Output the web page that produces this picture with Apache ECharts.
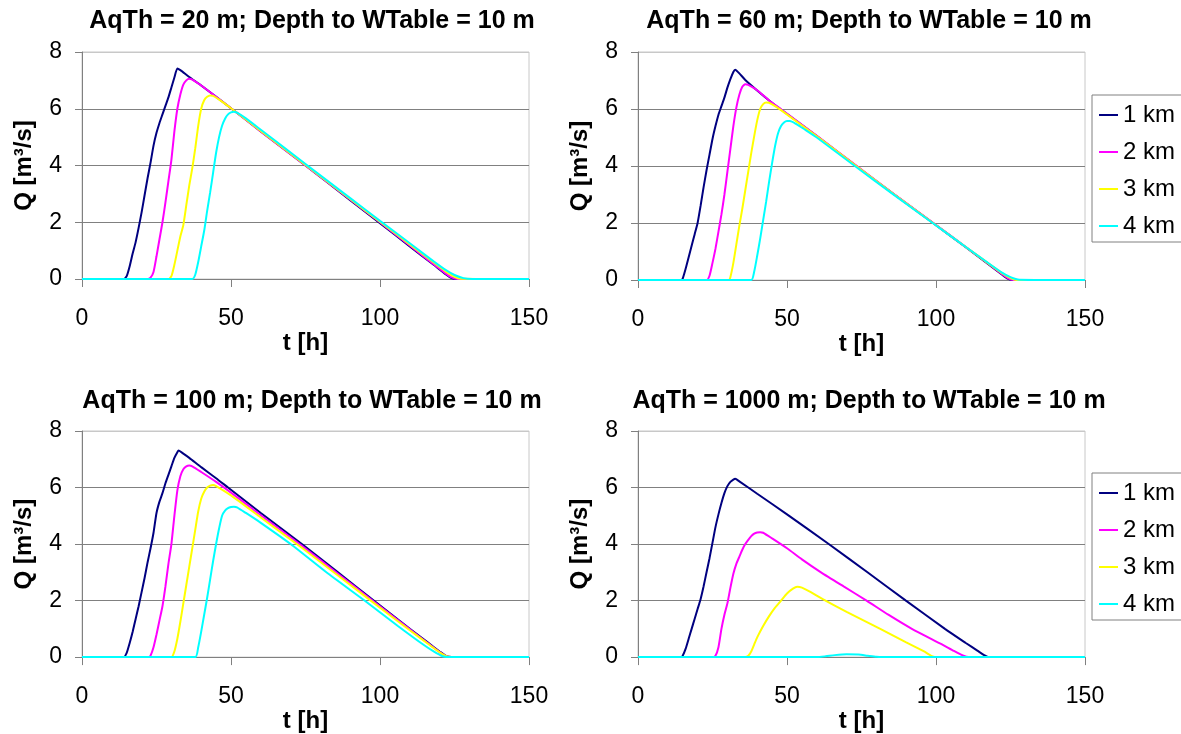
<!DOCTYPE html>
<html>
<head>
<meta charset="utf-8">
<script src="https://cdn.jsdelivr.net/npm/echarts@6/dist/echarts.min.js"></script>
<style>
html,body{margin:0;padding:0;background:#fff;}
#chart{width:1181px;height:734px;}
</style>
</head>
<body>
<div id="chart"></div>
<script>
// ---- Data (t [h], Q [m3/s]) ----
const seriesNames = ['1 km', '2 km', '3 km', '4 km'];
const panelTitles = [
  'AqTh = 20 m; Depth to WTable = 10 m',
  'AqTh = 60 m; Depth to WTable = 10 m',
  'AqTh = 100 m; Depth to WTable = 10 m',
  'AqTh = 1000 m; Depth to WTable = 10 m'
];
const xTicks = [0, 50, 100, 150];
const yTicks = [0, 2, 4, 6, 8];

// Panel 1: AqTh = 20 m
const p1_1km = [[0,0],[14,0],[15,0.1],[16,0.45],[17,0.9],[18,1.3],[19,1.8],[20,2.35],[21,2.95],[22,3.55],[23,4.1],[24,4.7],[25,5.15],[26,5.5],[27,5.8],[28,6.1],[29,6.4],[30,6.75],[31,7.1],[32,7.42],[33,7.36],[36,7.12],[40,6.82],[50,6.02],[60,5.2],[75,4.0],[90,2.78],[100,1.97],[110,1.15],[118,0.5],[122,0.17],[124,0.03],[126,0],[150,0]];
const p1_2km = [[0,0],[22,0],[23,0.05],[24,0.25],[25,0.8],[26,1.4],[27,2.0],[28,2.7],[29,3.45],[30,4.2],[31,5.2],[32,6.0],[33,6.5],[34,6.85],[35,7.0],[36,7.06],[37,7.03],[40,6.82],[50,6.02],[60,5.2],[75,4.0],[90,2.8],[100,2.0],[110,1.18],[118,0.52],[122,0.2],[124,0.06],[126,0],[150,0]];
const p1_3km = [[0,0],[29,0],[30,0.1],[31,0.5],[32,1.0],[33,1.5],[34,1.9],[35,2.6],[36,3.3],[37,3.9],[38,4.6],[39,5.4],[40,6.0],[41,6.3],[42,6.42],[43,6.47],[44,6.45],[47,6.25],[50,6.02],[60,5.22],[75,4.02],[90,2.82],[100,2.02],[110,1.22],[118,0.58],[122,0.27],[125,0.08],[127,0.01],[150,0]];
const p1_4km = [[0,0],[37,0],[38,0.15],[39,0.6],[40,1.15],[41,1.7],[42,2.4],[43,3.05],[44,3.75],[45,4.45],[46,5.0],[47,5.4],[48,5.65],[49,5.8],[50,5.87],[51,5.89],[52,5.86],[55,5.66],[60,5.26],[75,4.05],[90,2.85],[100,2.05],[110,1.26],[118,0.62],[122,0.32],[125,0.14],[128,0.03],[131,0],[150,0]];

// Panel 2: AqTh = 60 m
const p2_1km = [[0,0],[14.5,0],[15,0.05],[16,0.4],[17,0.8],[18,1.2],[19,1.6],[20,2.0],[21,2.6],[22,3.25],[23,3.85],[24,4.4],[25,4.95],[26,5.4],[27,5.8],[28,6.1],[29,6.4],[30,6.75],[31,7.05],[32,7.3],[32.6,7.38],[34,7.25],[36,7.02],[40,6.65],[44,6.3],[48,5.98],[60,5.05],[73,4.02],[86,3.0],[99,2.0],[110,1.15],[118,0.52],[122,0.2],[124,0.05],[126,0],[150,0]];
const p2_2km = [[0,0],[23,0],[24,0.15],[25,0.6],[26,1.1],[27,1.7],[28,2.3],[29,3.0],[30,3.8],[31,4.6],[32,5.4],[33,6.05],[34,6.5],[35,6.78],[36,6.87],[37,6.85],[40,6.66],[44,6.3],[48,5.99],[60,5.06],[73,4.03],[86,3.01],[99,2.01],[110,1.16],[118,0.54],[122,0.22],[124,0.07],[126,0],[150,0]];
const p2_3km = [[0,0],[30.5,0],[31,0.1],[32,0.6],[33,1.25],[34,1.9],[35,2.5],[36,3.15],[37,3.8],[38,4.45],[39,5.05],[40,5.6],[41,6.0],[42,6.17],[43,6.23],[44,6.22],[46,6.1],[48,5.96],[60,5.04],[73,4.02],[86,3.0],[99,2.0],[110,1.16],[118,0.55],[122,0.25],[125,0.07],[127,0],[150,0]];
const p2_4km = [[0,0],[38,0],[39,0.3],[40,0.85],[41,1.45],[42,2.1],[43,2.75],[44,3.45],[45,4.1],[46,4.7],[47,5.15],[48,5.4],[49,5.53],[50,5.58],[51,5.58],[53,5.48],[56,5.28],[60,5.0],[73,3.98],[86,2.98],[99,1.99],[110,1.16],[118,0.56],[122,0.27],[125,0.1],[128,0.01],[150,0]];

// Panel 3: AqTh = 100 m
const p3_1km = [[0,0],[14,0],[15,0.15],[16,0.5],[17,0.9],[18,1.35],[19,1.8],[20,2.3],[21,2.8],[22,3.35],[23,3.85],[24,4.4],[25,5.1],[26,5.5],[27,5.8],[28,6.15],[29,6.45],[30,6.75],[31,7.05],[32,7.25],[32.4,7.31],[34,7.2],[36,7.05],[40,6.72],[45,6.33],[49,6.0],[60,5.1],[74,3.98],[86,2.99],[98,1.99],[110,1.0],[116,0.52],[120,0.2],[122,0.05],[124,0],[150,0]];
const p3_2km = [[0,0],[22.5,0],[23,0.05],[24,0.35],[25,0.8],[26,1.3],[27,1.8],[28,2.5],[29,3.3],[30,4.0],[31,5.0],[32,5.9],[33,6.4],[34,6.65],[35,6.75],[36,6.78],[37,6.75],[40,6.55],[45,6.2],[50,5.82],[60,5.02],[74,3.92],[86,2.94],[98,1.96],[110,0.98],[116,0.5],[120,0.18],[122,0.04],[124,0],[150,0]];
const p3_3km = [[0,0],[30,0],[31,0.2],[32,0.65],[33,1.25],[34,1.9],[35,2.55],[36,3.2],[37,3.85],[38,4.5],[39,5.15],[40,5.6],[41,5.85],[42,6.0],[43,6.07],[44,6.09],[45,6.05],[50,5.72],[60,4.94],[74,3.85],[86,2.88],[98,1.91],[110,0.95],[116,0.48],[120,0.17],[122,0.04],[124,0],[150,0]];
const p3_4km = [[0,0],[38,0],[39,0.35],[40,0.9],[41,1.5],[42,2.1],[43,2.75],[44,3.4],[45,4.0],[46,4.55],[47,5.0],[48,5.18],[49,5.27],[50,5.31],[51,5.32],[52,5.3],[55,5.1],[60,4.75],[70,4.0],[82,3.0],[94.8,2.0],[106,1.1],[114,0.48],[118,0.2],[121,0.03],[123,0],[150,0]];

// Panel 4: AqTh = 1000 m
const p4_1km = [[0,0],[14.5,0],[15,0.05],[16,0.3],[17,0.65],[18,1.0],[19,1.35],[20,1.7],[21,2.05],[22,2.5],[23,3.0],[24,3.5],[25,4.05],[26,4.6],[27,5.05],[28,5.45],[29,5.8],[30,6.05],[31,6.2],[32,6.28],[32.6,6.31],[34,6.22],[40,5.78],[50,5.05],[64,4.0],[77,3.0],[89.9,2.0],[103,1.0],[110,0.5],[114,0.22],[116,0.08],[117.5,0],[150,0]];
const p4_2km = [[0,0],[25,0],[26,0.05],[27,0.35],[28,1.0],[29,1.5],[30,1.9],[31,2.45],[32,2.95],[33,3.3],[34,3.55],[35,3.8],[36,4.0],[37,4.15],[38,4.28],[39,4.37],[40,4.41],[41,4.42],[42,4.4],[45,4.2],[50,3.85],[55,3.46],[61.4,3.0],[69,2.5],[76.7,2.0],[84,1.5],[91.9,1.0],[102,0.45],[106,0.22],[109,0.06],[111,0],[150,0]];
const p4_3km = [[0,0],[36,0],[37,0.05],[38,0.2],[39,0.45],[40,0.7],[42,1.1],[44,1.45],[46,1.75],[48,2.0],[50,2.25],[52,2.42],[53.4,2.49],[55,2.46],[58,2.3],[62,2.05],[70,1.6],[81.3,1.0],[90,0.52],[96,0.2],[99.6,0],[150,0]];
const p4_4km = [[0,0],[60,0],[63,0.03],[66,0.07],[70,0.1],[74,0.09],[77,0.05],[80,0.01],[82,0],[150,0]];

const panelData = [
  [p1_1km, p1_2km, p1_3km, p1_4km],
  [p2_1km, p2_2km, p2_3km, p2_4km],
  [p3_1km, p3_2km, p3_3km, p3_4km],
  [p4_1km, p4_2km, p4_3km, p4_4km]
];

// ---- Layout & style ----
const colors = ['#000080', '#FF00FF', '#FFFF00', '#00FFFF'];
const FONT = '"Liberation Sans", Arial, sans-serif';
const grids = [
  {left: 82, top: 52, width: 447, height: 227},
  {left: 638, top: 52, width: 447, height: 228},
  {left: 82, top: 431, width: 447, height: 228},
  {left: 638, top: 431, width: 447, height: 229}
];
const titlePos = [
  {left: 312, top: 9},
  {left: 869, top: 9},
  {left: 312, top: 389},
  {left: 869, top: 389}
];

const chart = echarts.init(document.getElementById('chart'), null, {renderer: 'canvas'});

const option = {
  animation: false,
  backgroundColor: '#ffffff',
  color: colors,
  title: panelTitles.map((t, i) => ({
    text: t,
    left: titlePos[i].left,
    top: titlePos[i].top,
    textAlign: 'center',
    padding: 0,
    textStyle: {fontFamily: FONT, fontSize: 25, fontWeight: 'bold', color: '#000'}
  })),
  grid: grids.map(g => Object.assign({}, g, {show: true, borderColor: '#c8c8c8', borderWidth: 1, backgroundColor: '#fff', containLabel: false})),
  legend: [95, 473].map(top => ({
    data: seriesNames,
    orient: 'vertical',
    left: 1092,
    top: top,
    padding: [8, 40, 4, 7],
    itemGap: 13,
    itemWidth: 19,
    itemHeight: 2,
    icon: 'rect',
    borderColor: '#808080',
    borderWidth: 1,
    backgroundColor: '#fff',
    textStyle: {fontFamily: FONT, fontSize: 24, color: '#000'}
  })),
  xAxis: grids.map((g, i) => ({
    type: 'value',
    gridIndex: i,
    min: xTicks[0],
    max: xTicks[xTicks.length - 1],
    interval: 50,
    name: 't [h]',
    nameLocation: 'middle',
    nameGap: 41,
    nameTextStyle: {fontFamily: FONT, fontSize: 24, fontWeight: 'bold', color: '#000'},
    axisLine: {show: true, onZero: false, lineStyle: {color: '#808080', width: 1}},
    axisTick: {show: true, inside: false, length: 8, lineStyle: {color: '#808080'}},
    axisLabel: {margin: 28, fontFamily: FONT, fontSize: 23, color: '#000'},
    splitLine: {show: false}
  })),
  yAxis: grids.map((g, i) => ({
    type: 'value',
    gridIndex: i,
    min: yTicks[0],
    max: yTicks[yTicks.length - 1],
    interval: 2,
    name: 'Q [m³/s]',
    nameLocation: 'middle',
    nameGap: 46,
    nameRotate: 90,
    nameTextStyle: {fontFamily: FONT, fontSize: 24, fontWeight: 'bold', color: '#000'},
    axisLine: {show: true, lineStyle: {color: '#808080', width: 1}},
    axisTick: {show: true, inside: false, length: 7, lineStyle: {color: '#808080'}},
    axisLabel: {margin: 20, fontFamily: FONT, fontSize: 23, color: '#000'},
    splitLine: {show: true, lineStyle: {color: ['#808080', '#808080', '#808080', '#808080', '#c8c8c8'], width: 1}}
  })),
  series: []
};

panelData.forEach((arr, p) => {
  arr.forEach((d, s) => {
    option.series.push({
      type: 'line',
      name: seriesNames[s],
      xAxisIndex: p,
      yAxisIndex: p,
      data: d,
      showSymbol: false,
      symbol: 'none',
      smooth: 0.2,
      lineStyle: {color: colors[s], width: 2},
      itemStyle: {color: colors[s]},
      z: 2 + s
    });
  });
});

chart.setOption(option);
</script>
</body>
</html>
